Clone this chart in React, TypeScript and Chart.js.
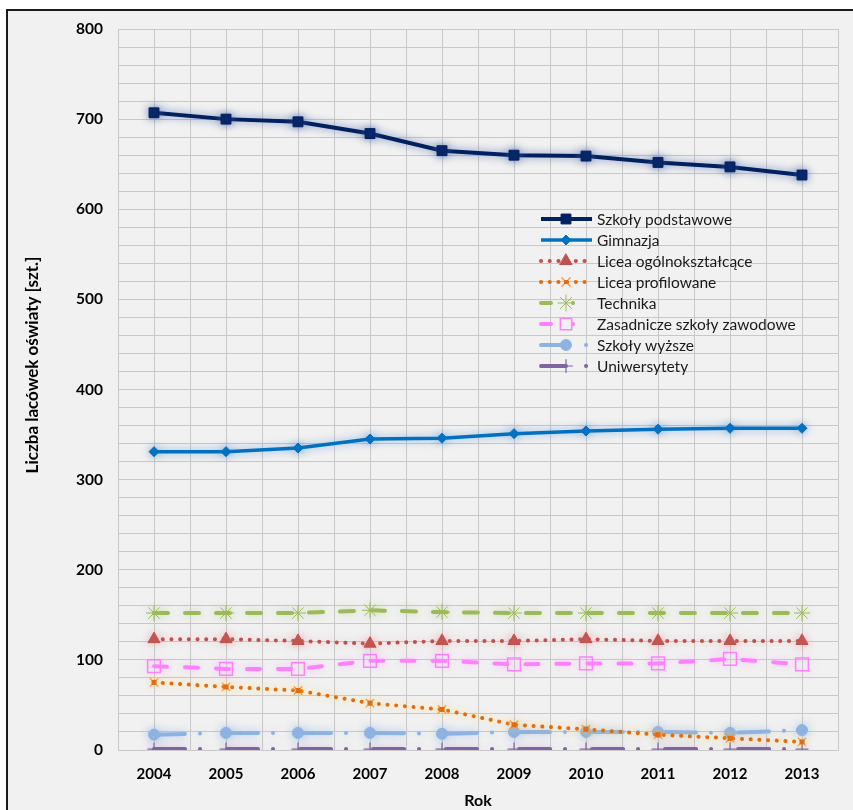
import React, { useEffect, useRef } from "react";
import { Chart, registerables } from "chart.js";
import { drawPoint } from "chart.js/helpers";

Chart.register(...registerables);

const years = [2004, 2005, 2006, 2007, 2008, 2009, 2010, 2011, 2012, 2013];
const szkolyPodstawowe = [707, 700, 697, 684, 665, 660, 659, 652, 647, 638];
const gimnazja = [331, 331, 335, 345, 346, 351, 354, 356, 357, 357];
const liceaOgolnoksztalcace = [123, 123, 121, 118, 121, 121, 123, 121, 121, 121];
const liceaProfilowane = [75, 70, 66, 52, 45, 28, 23, 17, 13, 9];
const technika = [152, 152, 152, 155, 153, 152, 152, 152, 152, 152];
const zasadniczeSzkolyZawodowe = [93, 90, 90, 99, 99, 95, 96, 96, 101, 95];
const szkolyWyzsze = [17, 19, 19, 19, 18, 20, 20, 20, 19, 22];
const uniwersytety = [1, 1, 1, 1, 1, 1, 1, 1, 1, 1];

const seriesNames = [
  "Szkoły podstawowe",
  "Gimnazja",
  "Licea ogólnokształcące",
  "Licea profilowane",
  "Technika",
  "Zasadnicze szkoły zawodowe",
  "Szkoły wyższe",
  "Uniwersytety",
];
const yTickLabels = ["0", "100", "200", "300", "400", "500", "600", "700", "800"];
const yAxisTitle = "Liczba lacówek oświaty [szt.]";
const xAxisTitle = "Rok";

const FONT = "Lato, 'Open Sans', sans-serif";

const toPoints = (vals: number[]) => vals.map((v, i) => ({ x: years[i], y: v }));

const glowPlugin = {
  id: "glow",
  beforeDatasetDraw(chart: any, args: any) {
    const ds = chart.data.datasets[args.index];
    const ctx = chart.ctx;
    ctx.save();
    ctx.shadowColor = ds.glow || "transparent";
    ctx.shadowBlur = 8;
    ctx.shadowOffsetX = 0;
    ctx.shadowOffsetY = 0;
  },
  afterDatasetDraw(chart: any) {
    chart.ctx.restore();
  },
};

const centerSquarePlugin = {
  id: "centerSquare",
  afterDatasetDraw(chart: any, args: any) {
    const ds = chart.data.datasets[args.index];
    if (!ds.centerSquare) return;
    const ctx = chart.ctx;
    const meta = chart.getDatasetMeta(args.index);
    ctx.save();
    ctx.fillStyle = ds.centerSquare;
    meta.data.forEach((p: any) => {
      ctx.fillRect(p.x - 2.5, p.y - 2.5, 5, 5);
    });
    ctx.restore();
  },
};

const legendPlugin = {
  id: "customLegend",
  afterDraw(chart: any) {
    const ctx = chart.ctx;
    const x0 = 541;
    const x1 = 592;
    const xm = 566;
    const y0 = 219;
    const dy = 21;
    chart.data.datasets.forEach((ds: any, i: number) => {
      const y = y0 + i * dy;
      ctx.save();
      ctx.strokeStyle = ds.borderColor;
      ctx.lineWidth = ds.borderWidth;
      ctx.lineCap = ds.borderCapStyle || "butt";
      ctx.setLineDash(ds.legendDash || ds.borderDash || []);
      ctx.beginPath();
      ctx.moveTo(x0, y);
      ctx.lineTo(x1, y);
      ctx.stroke();
      ctx.setLineDash([]);
      ctx.fillStyle = ds.pointBackgroundColor;
      ctx.strokeStyle = ds.pointBorderColor;
      ctx.lineWidth = ds.pointBorderWidth;
      drawPoint(
        ctx,
        {
          pointStyle: ds.pointStyle,
          radius: ds.legendRadius || ds.pointRadius,
          rotation: 0,
          borderWidth: ds.pointBorderWidth,
        } as any,
        xm,
        y
      );
      if (ds.centerSquare) {
        ctx.fillStyle = ds.centerSquare;
        ctx.fillRect(xm - 2, y - 2, 4, 4);
      }
      ctx.fillStyle = "#1a1a1a";
      ctx.font = `15.5px ${FONT}`;
      ctx.textAlign = "left";
      ctx.textBaseline = "middle";
      ctx.fillText(seriesNames[i], 597, y + 1);
      ctx.restore();
    });
  },
};

const yTitlePlugin = {
  id: "yTitle",
  afterDraw(chart: any) {
    const ctx = chart.ctx;
    ctx.save();
    ctx.translate(33, 365);
    ctx.rotate(-Math.PI / 2);
    ctx.fillStyle = "#000";
    ctx.font = `bold 17px ${FONT}`;
    ctx.textAlign = "center";
    ctx.textBaseline = "middle";
    ctx.fillText(yAxisTitle, 0, 0);
    ctx.restore();
  },
};

export default function App() {
  const canvasRef = useRef<HTMLCanvasElement | null>(null);

  useEffect(() => {
    const canvas = canvasRef.current;
    if (!canvas) return;
    const gridColor = "#c8c8c8";
    const chart = new Chart(canvas, {
      type: "line",
      data: {
        datasets: [
          {
            label: seriesNames[0],
            data: toPoints(szkolyPodstawowe),
            borderColor: "#002060",
            backgroundColor: "#002060",
            borderWidth: 4,
            pointStyle: "rect",
            pointRadius: 7,
            pointBackgroundColor: "#002060",
            pointBorderColor: "#002060",
            pointBorderWidth: 1,
            glow: "rgba(70,100,170,0.75)",
          },
          {
            label: seriesNames[1],
            data: toPoints(gimnazja),
            borderColor: "#0070c0",
            backgroundColor: "#0070c0",
            borderWidth: 3.5,
            pointStyle: "rectRot",
            pointRadius: 5,
            pointBackgroundColor: "#0070c0",
            pointBorderColor: "#0070c0",
            pointBorderWidth: 1,
            glow: "rgba(60,130,210,0.6)",
          },
          {
            label: seriesNames[2],
            data: toPoints(liceaOgolnoksztalcace),
            borderColor: "#c0504d",
            backgroundColor: "#c0504d",
            borderWidth: 4,
            borderDash: [0.1, 8.6],
            borderCapStyle: "round",
            pointStyle: "triangle",
            pointRadius: 7,
            pointBackgroundColor: "#c0504d",
            pointBorderColor: "#c0504d",
            pointBorderWidth: 1,
            glow: "rgba(230,140,140,0.6)",
          },
          {
            label: seriesNames[3],
            data: toPoints(liceaProfilowane),
            borderColor: "#e46c0a",
            backgroundColor: "#e46c0a",
            borderWidth: 4,
            borderDash: [0.1, 8.6],
            borderCapStyle: "round",
            pointStyle: "crossRot",
            pointRadius: 6,
            pointBackgroundColor: "#f79646",
            pointBorderColor: "#f79646",
            pointBorderWidth: 1.2,
            centerSquare: "#e46c0a",
            glow: "rgba(255,210,90,0.85)",
          },
          {
            label: seriesNames[4],
            data: toPoints(technika),
            borderColor: "#9bbb59",
            backgroundColor: "#9bbb59",
            borderWidth: 4,
            borderDash: [14, 17],
            borderCapStyle: "round",
            pointStyle: "star",
            pointRadius: 8,
            pointBackgroundColor: "#9bbb59",
            pointBorderColor: "#9bbb59",
            pointBorderWidth: 1,
            legendDash: [10, 22, 0.1, 30],
            glow: "rgba(170,200,110,0.5)",
          },
          {
            label: seriesNames[5],
            data: toPoints(zasadniczeSzkolyZawodowe),
            borderColor: "#ff80ff",
            backgroundColor: "#ff80ff",
            borderWidth: 4,
            borderDash: [13, 18],
            borderCapStyle: "round",
            pointStyle: "rect",
            pointRadius: 9,
            pointBackgroundColor: "rgba(0,0,0,0)",
            pointBorderColor: "#ff80ff",
            pointBorderWidth: 1.5,
            legendDash: [10, 22, 0.1, 30],
            legendRadius: 8,
            glow: "rgba(255,150,255,0.5)",
          },
          {
            label: seriesNames[6],
            data: toPoints(szkolyWyzsze),
            borderColor: "#8db3e2",
            backgroundColor: "#8db3e2",
            borderWidth: 4,
            borderDash: [31, 15, 0.01, 27],
            borderCapStyle: "round",
            pointStyle: "circle",
            pointRadius: 5.5,
            pointBackgroundColor: "#8db3e2",
            pointBorderColor: "#8db3e2",
            pointBorderWidth: 1,
            legendDash: [25, 20, 0.1, 30],
            glow: "rgba(140,180,230,0.7)",
          },
          {
            label: seriesNames[7],
            data: toPoints(uniwersytety),
            borderColor: "#8064a2",
            backgroundColor: "#8064a2",
            borderWidth: 4,
            borderDash: [31, 15, 0.01, 27],
            borderCapStyle: "round",
            pointStyle: "cross",
            pointRadius: 6.5,
            pointBackgroundColor: "#8064a2",
            pointBorderColor: "#8064a2",
            pointBorderWidth: 1.2,
            legendDash: [25, 20, 0.1, 30],
            glow: "rgba(170,140,200,0.5)",
          },
        ] as any,
      },
      options: {
        animation: false,
        responsive: false,
        maintainAspectRatio: false,
        devicePixelRatio: 1,
        layout: { padding: { top: 29, right: 5, bottom: 0, left: 0 } },
        plugins: {
          legend: { display: false },
          tooltip: { enabled: false },
        },
        elements: { line: { tension: 0, fill: false } },
        scales: {
          x: {
            type: "linear",
            min: 2003.5,
            max: 2013.5,
            afterFit: (s: any) => {
              s.height = 60;
            },
            grid: { color: gridColor, lineWidth: 1, drawTicks: false },
            border: { display: true, color: gridColor },
            ticks: {
              stepSize: 0.5,
              autoSkip: false,
              maxRotation: 0,
              padding: 15,
              color: "#000",
              font: { family: FONT, size: 15, weight: "bold" },
              callback: (v: any) => (Number.isInteger(Number(v)) ? String(v) : ""),
            },
            title: {
              display: true,
              text: xAxisTitle,
              color: "#000",
              font: { family: FONT, size: 16, weight: "bold" },
              padding: { top: 0, bottom: 0 },
            },
          },
          y: {
            type: "linear",
            min: 0,
            max: 800,
            afterFit: (s: any) => {
              s.width = 118;
            },
            grid: { color: gridColor, lineWidth: 1, drawTicks: false },
            border: { display: true, color: gridColor },
            ticks: {
              stepSize: 20,
              autoSkip: false,
              padding: 15,
              color: "#000",
              font: { family: FONT, size: 15.5, weight: "bold" },
              callback: (v: any) => {
                const n = Number(v);
                return n % 100 === 0 ? yTickLabels[n / 100] : "";
              },
            },
          },
        },
      },
      plugins: [glowPlugin, centerSquarePlugin, legendPlugin, yTitlePlugin],
    } as any);
    return () => chart.destroy();
  }, []);

  return (
    <div
      style={{
        position: "fixed",
        left: 0,
        top: 0,
        width: 853,
        height: 810,
        background: "#ffffff",
        overflow: "hidden",
      }}
    >
      <div
        style={{
          position: "absolute",
          left: 6,
          top: 9,
          width: 870,
          height: 830,
          border: "2px solid #1a1a1a",
          background: "#f1f1f1",
        }}
      />
      <canvas
        ref={canvasRef}
        width={853}
        height={810}
        style={{ position: "absolute", left: 0, top: 0, width: 853, height: 810 }}
      />
    </div>
  );
}
